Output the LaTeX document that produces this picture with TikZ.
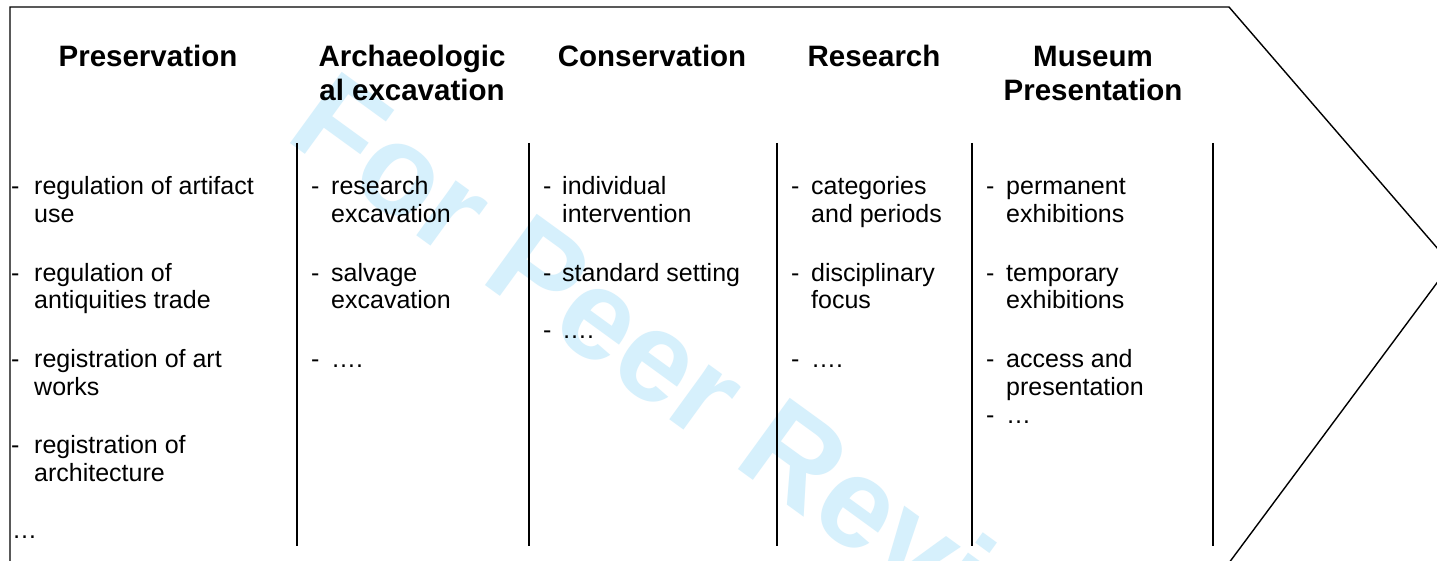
\documentclass[tikz,border=0pt]{standalone}
\usepackage{fontspec}
\setmainfont{Liberation Sans}
\definecolor{wmark}{RGB}{214,240,252}
\newcommand\twol[2]{\vtop{\hbox{#1}\hbox{#2}}}
\newcommand\twoc[2]{\vtop{\hbox to 0pt{\hss#1\hss}\hbox to 0pt{\hss#2\hss}}}
\begin{document}
\begin{tikzpicture}[x=1pt,y=-1pt,
  body/.style={anchor=base west, inner sep=0pt, font=\fontsize{25}{28}\selectfont},
  head/.style={anchor=base, inner sep=0pt, font=\fontsize{29.5}{34}\selectfont\bfseries},
  divider/.style={line width=2pt},
  outline/.style={line width=1.4pt, line join=miter},
  watermark/.style={anchor=base west, inner sep=0pt, rotate=-36, text=wmark, font=\fontsize{128}{140}\selectfont\bfseries}]
\useasboundingbox (0,0) rectangle (1437,561);
\clip (0,0) rectangle (1437,561);
\fill[white] (0,0) rectangle (1437,561);
% watermark
\node[watermark] (wm) at (283,138) {For Peer Review};
% outline chevron
\draw[outline] (10,575) -- (10,7) -- (1229,7) -- (1451,264) -- (1220,575);
% dividers
\draw[divider] (297,143) -- (297,546);
\draw[divider] (529,143) -- (529,546);
\draw[divider] (777,143) -- (777,546);
\draw[divider] (972,143) -- (972,546);
\draw[divider] (1213,143) -- (1213,546);
% headings
\node[head] (h1) at (148,67) {Preservation};
\node[head] (h2) at (412,67) {\twoc{Archaeologic}{al excavation}};
\node[head] (h3) at (652,67) {Conservation};
\node[head] (h4) at (874,67) {Research};
\node[head] (h5) at (1093,67) {\twoc{Museum}{Presentation}};
% column 1
\node[body] (a1d) at (11,195) {-};
\node[body] (a1) at (34,195) {\twol{regulation of artifact}{use}};
\node[body] (a2d) at (11,281) {-};
\node[body] (a2) at (34,281) {\twol{regulation of}{antiquities trade}};
\node[body] (a3d) at (11,367) {-};
\node[body] (a3) at (34,367) {\twol{registration of art}{works}};
\node[body] (a4d) at (11,453) {-};
\node[body] (a4) at (34,453) {\twol{registration of}{architecture}};
\node[body] (a5) at (12,538) {…};
% column 2
\node[body] (b1d) at (311,195) {-};
\node[body] (b1) at (331,195) {\twol{research}{excavation}};
\node[body] (b2d) at (311,281) {-};
\node[body] (b2) at (331,281) {\twol{salvage}{excavation}};
\node[body] (b3d) at (311,367) {-};
\node[body] (b3) at (331,367) {….};
% column 3
\node[body] (c1d) at (543,195) {-};
\node[body] (c1) at (562,195) {\twol{individual}{intervention}};
\node[body] (c2d) at (543,281) {-};
\node[body] (c2) at (562,281) {standard setting};
\node[body] (c3d) at (543,338) {-};
\node[body] (c3) at (562,338) {….};
% column 4
\node[body] (d1d) at (791,195) {-};
\node[body] (d1) at (811,195) {\twol{categories}{and periods}};
\node[body] (d2d) at (791,281) {-};
\node[body] (d2) at (811,281) {\twol{disciplinary}{focus}};
\node[body] (d3d) at (791,367) {-};
\node[body] (d3) at (811,367) {….};
% column 5
\node[body] (e1d) at (986,195) {-};
\node[body] (e1) at (1006,195) {\twol{permanent}{exhibitions}};
\node[body] (e2d) at (986,281) {-};
\node[body] (e2) at (1006,281) {\twol{temporary}{exhibitions}};
\node[body] (e3d) at (986,367) {-};
\node[body] (e3) at (1006,367) {\twol{access and}{presentation}};
\node[body] (e4d) at (986,423) {-};
\node[body] (e4) at (1006,423) {…};
\end{tikzpicture}
\end{document}
